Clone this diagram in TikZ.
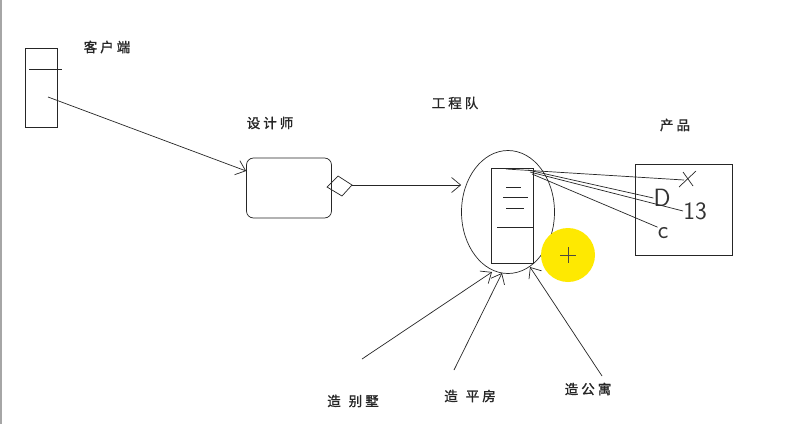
\documentclass[tikz,border=0pt]{standalone}
\usepackage{fontspec}
\newfontfamily\cjk[FakeBold=1.2]{Noto Sans CJK SC}
\usetikzlibrary{arrows.meta,shapes.geometric}
\begin{document}
\begin{tikzpicture}[x=1pt,y=-1pt,
  ln/.style={line width=0.7pt,draw=black!85},
  lbl/.style={font=\cjk\fontsize{13.5}{15}\selectfont,inner sep=0pt,text=black!85},
  hand/.style={font=\fontsize{25}{27}\selectfont\sffamily,inner sep=0pt,text=black!80},
  barb/.style={-{Straight Barb[length=9pt,width=15pt,line width=0.7pt]}}]
\useasboundingbox (0,0) rectangle (801,424);
\fill[white] (0,0) rectangle (801,424);
\draw[black!35,line width=1.2pt] (1,0) -- (1,424);

% client
\node[ln,draw,rectangle,minimum width=32pt,minimum height=79pt,inner sep=0pt] (client) at (41,87.5) {};
\coordinate (c1) at (29,69); \coordinate (c2) at (62,69);
\draw[ln] (c1) -- (c2);
\node[lbl] (clientlbl) at (107,47) {客 户 端};
\coordinate (cstart) at (48,97);

% designer
\node[ln,draw,rectangle,rounded corners=7pt,minimum width=85pt,minimum height=60pt,inner sep=0pt] (designer) at (289,188) {};
\node[lbl] (designerlbl) at (270,123) {设 计 师};
\draw[ln,barb] (cstart) -- (designer.west |- 0,171);

% diamond
\coordinate (d1) at (327,187); \coordinate (d2) at (338,176);
\coordinate (d3) at (352,185); \coordinate (d4) at (342,196);
\draw[ln] (d1) -- (d2) -- (d3) -- (d4) -- cycle;

% team ellipse
\node[ln,draw,ellipse,minimum width=93pt,minimum height=123pt,inner sep=0pt] (team) at (508,212) {};
\node[lbl] (teamlbl) at (455,103) {工 程 队};
\draw[ln,barb] (d3) -- (team.west |- 0,185);

% inner rect
\node[ln,draw,rectangle,minimum width=42pt,minimum height=95pt,inner sep=0pt] (inner) at (512,215.5) {};
\coordinate (i1a) at (506,187); \coordinate (i1b) at (521,187);
\coordinate (i2a) at (503,197); \coordinate (i2b) at (528,197);
\coordinate (i3a) at (506,208); \coordinate (i3b) at (524,208);
\coordinate (i4a) at (497,227); \coordinate (i4b) at (533,227);
\draw[ln] (i1a) -- (i1b) (i2a) -- (i2b) (i3a) -- (i3b) (i4a) -- (i4b);

% yellow highlight
\fill[yellow!92!orange] (568,255) circle (27);
\coordinate (y1) at (560,255); \coordinate (y2) at (576,255);
\coordinate (y3) at (568,247); \coordinate (y4) at (568,263);
\draw[black!60!yellow!50!black,line width=0.8pt] (y1) -- (y2) (y3) -- (y4);

% product
\node[ln,draw,rectangle,minimum width=97pt,minimum height=91pt,inner sep=0pt] (product) at (683.5,209.5) {};
\node[lbl] (productlbl) at (675,125) {产 品};

\coordinate (s1) at (506,169);
\coordinate (s2) at (528,170);
\coordinate (s3) at (530,172);
\coordinate (s4) at (532,174);
\coordinate (xend) at (684,180);
\coordinate (x1) at (679,187); \coordinate (x2) at (696,171);
\coordinate (x3) at (683,172); \coordinate (x4) at (693,186);
\draw[ln] (x1) -- (x2) (x3) -- (x4);
\draw[ln] (s1) -- (xend);
\node[hand] (dD) at (662,198) {D};
\node[hand] (d13) at (695,211) {13};
\node[hand] (dc) at (663,233) {c};
\draw[ln] (s2) -- (dD.west);
\draw[ln] (s3) -- (d13.west);
\draw[ln] (s4) -- (dc.north west);

% bottom labels
\node[lbl] (villa) at (353,401) {造\hspace{8pt}别 墅};
\node[lbl] (bung) at (470,396) {造\hspace{8pt}平 房};
\node[lbl] (apt) at (588,389) {造 公 寓};
\coordinate (v0) at (362,359);
\coordinate (b0) at (454,370);
\coordinate (a0) at (602,376);
\coordinate (v1) at (492,272);
\coordinate (b1) at (502,273);
\coordinate (a1) at (530,267);
\draw[ln,barb] (v0) -- (v1);
\draw[ln,barb] (b0) -- (b1);
\draw[ln,barb] (a0) -- (a1);
\end{tikzpicture}
\end{document}
